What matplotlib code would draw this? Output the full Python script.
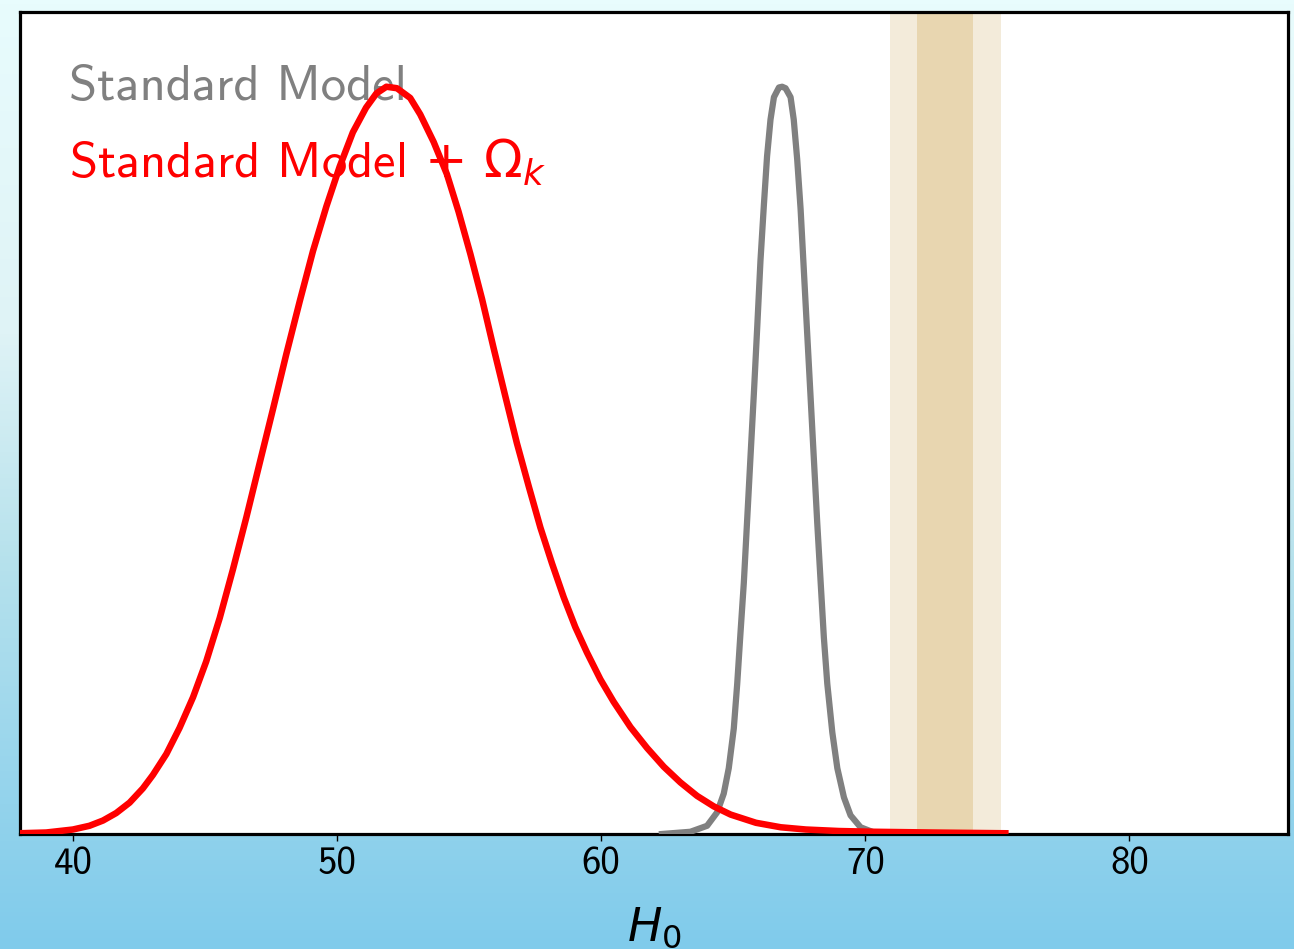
import matplotlib
matplotlib.use("Agg")
import matplotlib.pyplot as plt
import numpy as np
from matplotlib.colors import LinearSegmentedColormap

plt.rcParams['axes.unicode_minus'] = False

# H0 posterior for the Standard Model + Omega_k
h0_curv = [37.98, 38.99, 40.0, 40.63, 41.14, 41.64, 42.15, 42.65, 43.03, 43.54, 44.04,
           44.55, 45.05, 45.56, 46.06, 46.57, 47.07, 47.58, 48.08, 48.59, 49.09, 49.6,
           50.1, 50.6, 51.1, 51.49, 51.87, 52.27, 52.77, 53.15, 53.66, 54.16, 54.6,
           55.05, 55.49, 55.93, 56.37, 56.81, 57.26, 57.7, 58.14, 58.58, 59.02, 59.46,
           59.97, 60.47, 61.11, 61.74, 62.37, 63.0, 63.63, 64.26, 64.9, 65.86, 66.8,
           67.75, 69.0, 70.3, 72.5, 75.3]
p_curv = [0.001, 0.002, 0.006, 0.011, 0.018, 0.028, 0.042, 0.061, 0.079, 0.107, 0.142,
          0.183, 0.231, 0.289, 0.354, 0.424, 0.496, 0.569, 0.642, 0.713, 0.780, 0.840,
          0.893, 0.939, 0.972, 0.991, 1.0, 0.998, 0.985, 0.963, 0.926, 0.883, 0.833,
          0.776, 0.716, 0.650, 0.586, 0.523, 0.465, 0.410, 0.362, 0.317, 0.277, 0.243,
          0.207, 0.177, 0.143, 0.115, 0.090, 0.069, 0.051, 0.037, 0.026, 0.015, 0.009,
          0.006, 0.004, 0.003, 0.002, 0.001]

# H0 posterior for the Standard Model
h0_std = [62.3, 63.38, 64.01, 64.39, 64.64, 64.83, 65.02, 65.15, 65.27, 65.4, 65.52,
          65.65, 65.78, 65.91, 66.03, 66.16, 66.28, 66.41, 66.54, 66.73, 66.85, 66.98,
          67.17, 67.29, 67.42, 67.55, 67.67, 67.8, 67.93, 68.05, 68.18, 68.31, 68.43,
          68.56, 68.75, 68.94, 69.19, 69.44, 69.82, 70.33]
p_std = [0.0, 0.003, 0.011, 0.029, 0.054, 0.088, 0.141, 0.201, 0.267, 0.336, 0.416,
         0.503, 0.589, 0.680, 0.767, 0.842, 0.907, 0.956, 0.986, 0.999, 1.0, 0.998,
         0.986, 0.956, 0.903, 0.836, 0.756, 0.669, 0.583, 0.503, 0.416, 0.336, 0.263,
         0.201, 0.136, 0.088, 0.049, 0.025, 0.009, 0.002]

# local measurement bands (1 and 2 sigma)
band_inner = [71.97, 74.09]
band_outer = [70.93, 75.13]

ticks = [40, 50, 60, 70, 80]

fig = plt.figure(figsize=(12.94, 9.49), dpi=100)

# gradient background
bg = fig.add_axes([0, 0, 1, 1], zorder=-10)
cmap = LinearSegmentedColormap.from_list(
    "sky", [(0.0, "#e8fcfd"), (0.35, "#dff3f6"), (0.6, "#b5e1ec"),
            (0.85, "#93d3ec"), (1.0, "#80cbeb")])
grad = np.linspace(0, 1, 256).reshape(-1, 1)
bg.imshow(grad, aspect="auto", cmap=cmap, extent=[0, 1, 1, 0])
bg.set_axis_off()

ax = fig.add_axes([20 / 1294, 1 - 834 / 949, 1268 / 1294, 822 / 949])
ax.set_facecolor("white")

ax.axvspan(band_outer[0], band_outer[1], color="#f3ebda", lw=0, zorder=1)
ax.axvspan(band_inner[0], band_inner[1], color="#e8d6b0", lw=0, zorder=1)

ax.plot(h0_std, p_std, color="#808080", lw=4.5, zorder=3, solid_joinstyle="round")
ax.plot(h0_curv, p_curv, color="red", lw=4.7, zorder=4, solid_joinstyle="round")

ax.set_xlim(38, 86)
ax.set_ylim(0, 1.1)
ax.set_yticks([])
ax.set_xticks(ticks)
ax.set_xticklabels([str(t) for t in ticks], family="cmss10", fontsize=28)
ax.tick_params(axis="x", direction="out", length=5, width=1, pad=4)
for s in ax.spines.values():
    s.set_linewidth(2.3)
    s.set_color("black")

ax.set_xlabel(r"$H_0$", fontsize=33, labelpad=17, math_fontfamily="dejavusans")

ax.text(0.039, 0.893, "Standard Model", transform=ax.transAxes, color="#808080",
        fontsize=36.5, family="cmss10", va="baseline", zorder=2)
ax.text(0.039, 0.799, r"Standard Model $+\ \Omega_k$", transform=ax.transAxes,
        color="red", fontsize=36.5, family="cmss10", va="baseline", zorder=2,
        math_fontfamily="dejavusans")

fig.savefig("out.png", dpi=100)
